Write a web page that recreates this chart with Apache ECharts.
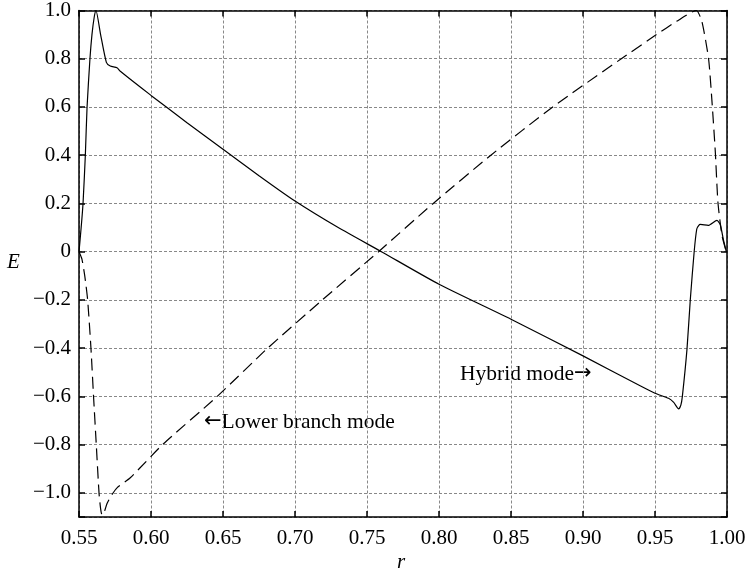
<!DOCTYPE html>
<html>
<head>
<meta charset="utf-8">
<script src="https://cdn.jsdelivr.net/npm/echarts@6/dist/echarts.min.js"></script>
<style>html,body{margin:0;padding:0;background:#fff;}#c{width:749px;height:574px;}</style>
</head>
<body>
<div id="c"></div>
<script>
// Hybrid mode (solid)
var hybridR = [0.550, 0.5515, 0.5528, 0.5544, 0.5556, 0.5576, 0.5590, 0.5605, 0.5618, 0.5650, 0.5690, 0.5717, 0.5764, 0.5787, 0.600, 0.625, 0.650, 0.675, 0.700, 0.730, 0.760, 0.800, 0.850, 0.900, 0.940, 0.950, 0.9594, 0.9630, 0.9664, 0.9680, 0.9690, 0.9722, 0.9745, 0.9772, 0.9790, 0.9803, 0.9814, 0.9870, 0.9930, 0.9953, 0.9975, 0.9995];
var hybridE = [0.000, 0.10, 0.20, 0.40, 0.60, 0.80, 0.90, 0.97, 1.00, 0.90, 0.785, 0.770, 0.763, 0.748, 0.648, 0.535, 0.425, 0.315, 0.210, 0.100, 0.000, -0.135, -0.280, -0.432, -0.557, -0.587, -0.608, -0.625, -0.652, -0.635, -0.600, -0.405, -0.200, 0.000, 0.094, 0.108, 0.113, 0.109, 0.130, 0.113, 0.050, 0.000];
// Lower branch mode (dashed)
var lowerR = [0.550, 0.552, 0.554, 0.556, 0.5583, 0.5601, 0.5620, 0.5639, 0.5650, 0.5660, 0.5675, 0.5694, 0.5722, 0.5764, 0.5856, 0.608, 0.646, 0.681, 0.719, 0.758, 0.796, 0.836, 0.879, 0.9266, 0.951, 0.9650, 0.9787, 0.9826, 0.9872, 0.9896, 0.9919, 0.9937, 0.9965, 0.9995];
var lowerE = [0.000, -0.03, -0.10, -0.20, -0.40, -0.60, -0.80, -1.00, -1.065, -1.092, -1.08, -1.045, -1.013, -0.979, -0.9375, -0.80, -0.60, -0.40, -0.20, 0.00, 0.20, 0.40, 0.60, 0.80, 0.90, 0.955, 1.00, 0.953, 0.80, 0.62, 0.412, 0.205, 0.068, 0.000];

var xTicks = {min: 0.55, max: 1.00, interval: 0.05};
var yRange = {min: -1.1, max: 1.0};

function zip(a, b) { return a.map(function (v, i) { return [v, b[i]]; }); }

var FONT = 'Liberation Serif';
var FS = 21;
var chart = echarts.init(document.getElementById('c'), null, {renderer: 'canvas'});

function yFmt(v) {
  var k = Math.round(v * 10);
  if (Math.abs(v * 10 - k) > 1e-6 || k % 2 !== 0) return '';
  if (k === 0) return '0';
  var s = Math.abs(v).toFixed(1);
  return (v < 0 ? '\u2212' : '') + s;
}

var axisLineStyle = {color: '#000', width: 1.5};
var gridLine = {show: true, lineStyle: {color: '#888', type: [3, 2], width: 1}};
var tick = {show: true, inside: true, length: 6, lineStyle: {color: '#000', width: 1.5}};

chart.setOption({
  animation: false,
  backgroundColor: '#fff',
  grid: {left: 79, right: 22, top: 8, bottom: 57, containLabel: false},
  xAxis: [
    {type: 'value', min: xTicks.min, max: xTicks.max, interval: xTicks.interval, position: 'bottom',
     axisLine: {show: true, onZero: false, lineStyle: axisLineStyle},
     axisTick: tick,
     axisLabel: {fontFamily: FONT, fontSize: FS, color: '#000', margin: 11, formatter: function (v) { return v.toFixed(2); }},
     splitLine: gridLine},
    {type: 'value', min: xTicks.min, max: xTicks.max, interval: xTicks.interval, position: 'top',
     axisLine: {show: true, onZero: false, lineStyle: axisLineStyle},
     axisTick: tick, axisLabel: {show: false}, splitLine: {show: false}}
  ],
  yAxis: [
    {type: 'value', min: yRange.min, max: yRange.max, splitNumber: 10, position: 'left',
     axisLine: {show: true, onZero: false, lineStyle: axisLineStyle},
     axisTick: tick,
     axisLabel: {fontFamily: FONT, fontSize: FS, color: '#000', margin: 8, formatter: yFmt},
     splitLine: gridLine},
    {type: 'value', min: yRange.min, max: yRange.max, splitNumber: 10, position: 'right',
     axisLine: {show: true, onZero: false, lineStyle: axisLineStyle},
     axisTick: tick, axisLabel: {show: false}, splitLine: {show: false}}
  ],
  series: [
    {name: 'Hybrid mode', type: 'line', xAxisIndex: 0, yAxisIndex: 0, data: zip(hybridR, hybridE),
     showSymbol: false, smooth: 0.2, lineStyle: {color: '#000', width: 1.2}},
    {name: 'Lower branch mode', type: 'line', xAxisIndex: 0, yAxisIndex: 0, data: zip(lowerR, lowerE),
     showSymbol: false, smooth: 0.2, lineStyle: {color: '#000', width: 1.2, type: [12, 6]}}
  ],
  graphic: [
    {type: 'text', left: 7, top: 252, style: {text: 'E', font: 'italic 21px "Liberation Serif"', fill: '#000'}},
    {type: 'text', left: 397, top: 552, style: {text: 'r', font: 'italic 21px "Liberation Serif"', fill: '#000'}},
    {type: 'text', left: 460, top: 363, style: {
      text: '{t|Hybrid mode}{a|\u2192}',
      rich: {t: {fontFamily: FONT, fontSize: 21.5, fill: '#000'}, a: {fontFamily: 'DejaVu Sans', fontSize: 21, fill: '#000'}}}},
    {type: 'text', left: 204, top: 411, style: {
      text: '{a|\u2190}{t|Lower branch mode}',
      rich: {t: {fontFamily: FONT, fontSize: 21.5, fill: '#000'}, a: {fontFamily: 'DejaVu Sans', fontSize: 21, fill: '#000'}}}}
  ]
});
</script>
</body>
</html>
